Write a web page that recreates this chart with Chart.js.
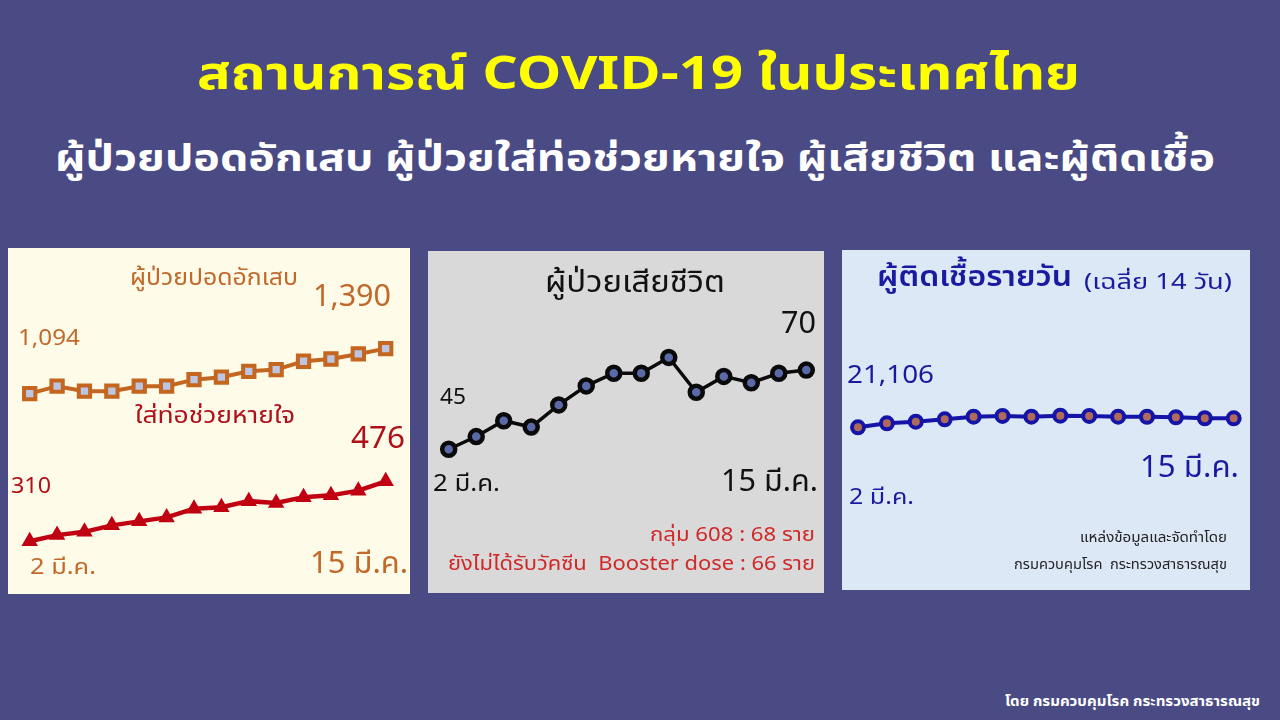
<!DOCTYPE html>
<html><head><meta charset="utf-8">
<script src="https://cdn.jsdelivr.net/npm/chart.js@4.4.0/dist/chart.umd.min.js"></script>
<style>
html,body{margin:0;padding:0;}
body{width:1280px;height:720px;background:#4a4a85;position:relative;overflow:hidden;font-family:"Noto Sans Thai","Noto Sans","Tahoma",sans-serif;}
.t{position:absolute;white-space:nowrap;line-height:1;transform-origin:0 50%;}
.panel{position:absolute;}
.panel canvas{position:absolute;left:0;top:0;}
</style></head>
<body>
<div class="panel" style="left:8px;top:248px;width:402px;height:346px;background:#fffbe9;"><canvas id="c1" width="402" height="346"></canvas></div>
<div class="panel" style="left:428px;top:251px;width:396px;height:342px;background:#d9d9d9;"><canvas id="c2" width="396" height="342"></canvas></div>
<div class="panel" style="left:842px;top:250px;width:408px;height:340px;background:#dde8f6;"><canvas id="c3" width="408" height="340"></canvas></div>

<div class="t" data-x="197" data-y="75" data-w="883" style="color:#ffff00;font-size:46px;font-weight:bold;">สถานการณ์ COVID-19 ในประเทศไทย</div>
<div class="t" data-x="55" data-y="160" data-w="1160" style="color:#ffffff;font-size:38px;font-weight:bold;">ผู้ป่วยปอดอักเสบ ผู้ป่วยใส่ท่อช่วยหายใจ ผู้เสียชีวิต และผู้ติดเชื้อ</div>

<!-- panel 1 labels -->
<div class="t" data-x="130" data-y="278" data-w="168" style="color:#c0692b;font-size:23px;">ผู้ป่วยปอดอักเสบ</div>
<div class="t" data-x="313" data-y="296" data-w="78" style="color:#c0692b;font-size:31px;">1,390</div>
<div class="t" data-x="18" data-y="339" data-w="62" style="color:#c0692b;font-size:22px;">1,094</div>
<div class="t" data-x="135" data-y="416" data-w="160" style="color:#b0101a;font-size:23px;">ใส่ท่อช่วยหายใจ</div>
<div class="t" data-x="351" data-y="438" data-w="54" style="color:#b0101a;font-size:31px;">476</div>
<div class="t" data-x="11" data-y="487" data-w="40" style="color:#b0101a;font-size:22px;">310</div>
<div class="t" data-x="30" data-y="568" data-w="66" style="color:#c0692b;font-size:22px;">2 มี.ค.</div>
<div class="t" data-x="310" data-y="563" data-w="98" style="color:#c0692b;font-size:31px;">15 มี.ค.</div>

<!-- panel 2 labels -->
<div class="t" data-x="545" data-y="282" data-w="180" style="color:#111;font-size:31px;">ผู้ป่วยเสียชีวิต</div>
<div class="t" data-x="781" data-y="324" data-w="35" style="color:#111;font-size:30px;">70</div>
<div class="t" data-x="440" data-y="398" data-w="26" style="color:#111;font-size:22px;">45</div>
<div class="t" data-x="433" data-y="484" data-w="67" style="color:#111;font-size:23px;">2 มี.ค.</div>
<div class="t" data-x="721" data-y="481" data-w="97" style="color:#111;font-size:31px;">15 มี.ค.</div>
<div class="t" data-x="650" data-y="535" data-w="165" style="color:#d02828;font-size:20px;">กลุ่ม 608 : 68 ราย</div>
<div class="t" data-x="448" data-y="564" data-w="367" style="color:#d02828;font-size:20px;">ยังไม่ได้รับวัคซีน&nbsp; Booster dose : 66 ราย</div>

<!-- panel 3 labels -->
<div class="t" data-x="877" data-y="277" data-w="195" style="color:#1a1aa0;font-size:29px;font-weight:600;">ผู้ติดเชื้อรายวัน</div>
<div class="t" data-x="1084" data-y="282" data-w="148" style="color:#1a1aa0;font-size:21px;">(เฉลี่ย 14 วัน)</div>
<div class="t" data-x="847" data-y="375" data-w="87" style="color:#1a1aa0;font-size:26px;">21,106</div>
<div class="t" data-x="1140" data-y="467" data-w="99" style="color:#1a1aa0;font-size:31px;">15 มี.ค.</div>
<div class="t" data-x="849" data-y="498" data-w="65" style="color:#1a1aa0;font-size:22px;">2 มี.ค.</div>
<div class="t" data-x="1080" data-y="538" data-w="147" style="color:#222;font-size:14px;">แหล่งข้อมูลและจัดทำโดย</div>
<div class="t" data-x="1014" data-y="565" data-w="213" style="color:#222;font-size:14px;">กรมควบคุมโรค&nbsp; กระทรวงสาธารณสุข</div>

<div class="t" data-x="1005" data-y="702" data-w="255" style="color:#ffffff;font-size:14px;font-weight:bold;">โดย กรมควบคุมโรค กระทรวงสาธารณสุข</div>

<script>
const days = ["2","3","4","5","6","7","8","9","10","11","12","13","14","15"];
const pneumonia = [1094,1143,1110,1110,1143,1143,1186,1202,1241,1252,1307,1322,1355,1390];
const ventilated = [310,327,336,354,365,376,400,404,421,416,432,437,450,476];
const deaths = [45,49,54,52,59,65,69,69,74,63,68,66,69,70];
const cases = [21106,21500,21670,21900,22170,22240,22170,22270,22240,22170,22160,22110,22010,22000];

document.querySelectorAll('.t').forEach(el=>{
  const w = el.getBoundingClientRect().width;
  const sx = (+el.dataset.w)/w;
  el.style.left = el.dataset.x+'px';
  el.style.top = el.dataset.y+'px';
  el.style.transform = 'translate(0,-50%) scaleX('+sx+')';
});

function baseOpts(pad, scales){
  return {
    responsive:false, animation:false,
    layout:{padding:pad, autoPadding:false},
    plugins:{legend:{display:false},tooltip:{enabled:false}},
    scales:Object.assign({x:{display:false,offset:false}}, scales)
  };
}

new Chart(document.getElementById('c1'),{
  type:'line',
  data:{labels:days,datasets:[
    {data:pneumonia,yAxisID:'y',borderColor:'#c4661f',borderWidth:4,pointStyle:'rect',pointRadius:8,
     pointBackgroundColor:'#bcc6e2',pointBorderColor:'#c4661f',pointBorderWidth:4,tension:0,clip:false},
    {data:ventilated,yAxisID:'y2',borderColor:'#c00012',borderWidth:4.5,pointStyle:'triangle',pointRadius:7.5,
     pointBackgroundColor:'#c00012',pointBorderColor:'#c00012',pointBorderWidth:2,tension:0,clip:false}
  ]},
  options:baseOpts({left:21.7,right:24.3,top:0,bottom:0},{
    y:{display:false,min:-224,max:2052},
    y2:{display:false,min:164,max:1121.5}
  })
});

new Chart(document.getElementById('c2'),{
  type:'line',
  data:{labels:days,datasets:[
    {data:deaths,borderColor:'#0a0a0a',borderWidth:3.5,pointStyle:'circle',pointRadius:6.5,
     pointBackgroundColor:'#5a6aa8',pointBorderColor:'#0a0a0a',pointBorderWidth:4.5,tension:0,clip:false}
  ]},
  options:baseOpts({left:20.7,right:17.7,top:0,bottom:0},{
    y:{display:false,min:-0.4,max:107.6}
  })
});

new Chart(document.getElementById('c3'),{
  type:'line',
  data:{labels:days,datasets:[
    {data:cases,borderColor:'#1414a8',borderWidth:4,pointStyle:'circle',pointRadius:6,
     pointBackgroundColor:'#b06a5a',pointBorderColor:'#1414a8',pointBorderWidth:4,tension:0,clip:false}
  ]},
  options:baseOpts({left:16,right:16.3,top:0,bottom:0},{
    y:{display:false,min:4836,max:38836}
  })
});
</script>
</body></html>
